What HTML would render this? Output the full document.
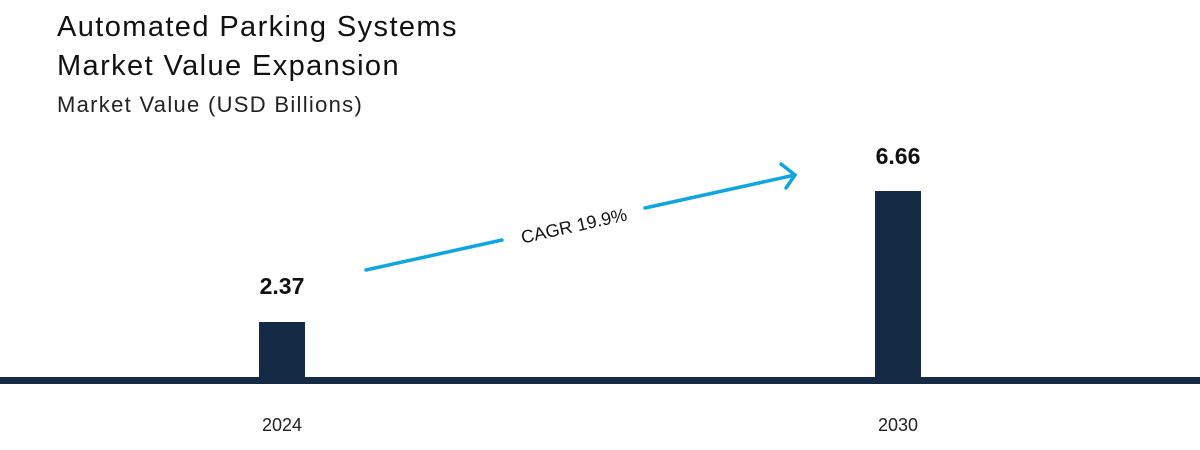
<!DOCTYPE html>
<html><head><style>
body{margin:0;width:1200px;height:450px;background:#fff;font-family:"Liberation Sans",sans-serif;overflow:hidden;position:relative}
.t{position:absolute;left:57px;color:#111;white-space:nowrap}
</style></head><body>
<div class="t" style="top:8px;font-size:29px;line-height:39px;letter-spacing:1.4px">Automated Parking Systems<br>Market Value Expansion</div>
<div class="t" style="top:92px;font-size:22px;color:#222;letter-spacing:1.3px">Market Value (USD Billions)</div>
<svg width="1200" height="450" style="position:absolute;left:0;top:0">
<rect x="259" y="322" width="46" height="58" fill="#152a45"/>
<rect x="875" y="191" width="46" height="189" fill="#152a45"/>
<rect x="0" y="377" width="1200" height="7" fill="#152a45"/>
<text x="282" y="294" font-size="23" font-weight="bold" text-anchor="middle" fill="#111">2.37</text>
<text x="898" y="164" font-size="23" font-weight="bold" text-anchor="middle" fill="#111">6.66</text>
<text x="282" y="431" font-size="18" text-anchor="middle" fill="#222">2024</text>
<text x="898" y="431" font-size="18" text-anchor="middle" fill="#222">2030</text>
<g stroke="#0ea5e0" stroke-width="3.5" fill="none" stroke-linecap="round">
<line x1="366" y1="270" x2="502" y2="240"/>
<line x1="645" y1="208" x2="795" y2="175"/>
<polyline points="781,164 795,175 786,188"/>
</g>
<text x="574" y="232" font-size="18" text-anchor="middle" fill="#111" transform="rotate(-12.6 574 226)">CAGR 19.9%</text>
</svg>
</body></html>
